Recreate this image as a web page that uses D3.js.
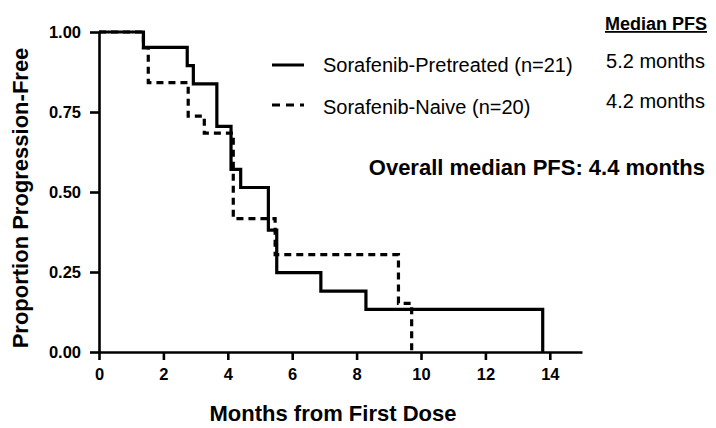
<!DOCTYPE html>
<html>
<head>
<meta charset="utf-8">
<script src="https://cdn.jsdelivr.net/npm/d3@7"></script>
<style>
  body { margin: 0; background: #fff; }
  svg text { font-family: "Liberation Sans", Arial, sans-serif; fill: #000; }
</style>
</head>
<body>
<svg id="chart"></svg>
<script>
var width = 716,
    height = 428,
    margin = {top: 32, right: 134, bottom: 76, left: 99};

// Kaplan-Meier steps
var pretreatedMonths = [0, 1.38, 2.74, 2.93, 3.66, 4.10, 4.40, 5.26, 5.52, 6.89, 8.29, 13.78];
var pretreatedSurv   = [1, 0.952, 0.895, 0.838, 0.705, 0.571, 0.514, 0.381, 0.248, 0.190, 0.133, 0];
var naiveMonths = [0, 1.38, 1.53, 2.77, 3.27, 4.17, 5.47, 9.30, 9.71];
var naiveSurv   = [1, 0.95, 0.842, 0.737, 0.684, 0.417, 0.304, 0.152, 0];

var xTicks = [0, 2, 4, 6, 8, 10, 12, 14];
var yTicks = [0, 0.25, 0.5, 0.75, 1];

var seriesNames = ['Sorafenib-Pretreated (n=21)', 'Sorafenib-Naive (n=20)'];
var seriesMedians = ['5.2 months', '4.2 months'];
var seriesDash = [null, '7,5'];

function draw() {
  var svg, g, x, y, line, series, legend;

  svg = d3.select('#chart')
    .attr('width', width)
    .attr('height', height);

  g = svg.append('g')
    .attr('transform', 'translate(' + margin.left + ',' + margin.top + ')');

  x = d3.scaleLinear().domain([0, 15]).range([0, 483]);
  y = d3.scaleLinear().domain([0, 1]).range([320, 0]);

  // AXES
  g.append('g')
    .attr('transform', 'translate(0,' + y(0) + ')')
    .call(d3.axisBottom(x).tickValues(xTicks).tickSize(8).tickSizeOuter(0).tickPadding(8));

  g.append('g')
    .call(d3.axisLeft(y).tickValues(yTicks).tickFormat(d3.format('.2f')).tickSize(9).tickSizeOuter(0).tickPadding(9));

  g.selectAll('.domain, .tick line')
    .attr('stroke', '#000')
    .attr('stroke-width', 2.6);

  g.selectAll('.tick text')
    .style('font-size', '16.5px')
    .style('font-weight', 'bold');

  // CURVES
  line = d3.line()
    .x(function(d) { return x(d[0]); })
    .y(function(d) { return y(d[1]); })
    .curve(d3.curveStepAfter);

  series = [d3.zip(pretreatedMonths, pretreatedSurv), d3.zip(naiveMonths, naiveSurv)];

  g.selectAll('path.km')
    .data(series)
    .enter()
    .append('path')
    .attr('class', 'km')
    .attr('d', line)
    .attr('fill', 'none')
    .attr('stroke', '#000')
    .attr('stroke-width', 3.2)
    .attr('stroke-dasharray', function(d, i) { return seriesDash[i]; });

  // AXIS TITLES
  svg.append('text')
    .attr('transform', 'translate(28,198) rotate(-90)')
    .attr('text-anchor', 'middle')
    .style('font-size', '22px')
    .style('font-weight', 'bold')
    .text('Proportion Progression-Free');

  svg.append('text')
    .attr('x', 333)
    .attr('y', 421)
    .attr('text-anchor', 'middle')
    .style('font-size', '22px')
    .style('font-weight', 'bold')
    .text('Months from First Dose');

  // LEGEND
  svg.append('text')
    .attr('x', 707)
    .attr('y', 30)
    .attr('text-anchor', 'end')
    .style('font-size', '18px')
    .style('font-weight', 'bold')
    .style('text-decoration', 'underline')
    .text('Median PFS');

  legend = svg.selectAll('g.legend')
    .data(seriesNames)
    .enter()
    .append('g')
    .attr('class', 'legend')
    .attr('transform', function(d, i) { return 'translate(0,' + (65 + i * 40) + ')'; });

  legend.append('line')
    .attr('x1', 272)
    .attr('x2', 304)
    .attr('stroke', '#000')
    .attr('stroke-width', 3)
    .attr('stroke-dasharray', function(d, i) { return seriesDash[i] ? '8,6' : null; });

  legend.append('text')
    .attr('x', 323)
    .attr('y', function(d, i) { return 7 + i * 2; })
    .style('font-size', '20px')
    .text(function(d) { return d; });

  legend.append('text')
    .attr('x', 705)
    .attr('y', 3)
    .attr('text-anchor', 'end')
    .style('font-size', '20px')
    .text(function(d, i) { return seriesMedians[i]; });

  svg.append('text')
    .attr('x', 705)
    .attr('y', 175)
    .attr('text-anchor', 'end')
    .style('font-size', '22px')
    .style('font-weight', 'bold')
    .text('Overall median PFS: 4.4 months');
}

window.onload = draw;
</script>
</body>
</html>
